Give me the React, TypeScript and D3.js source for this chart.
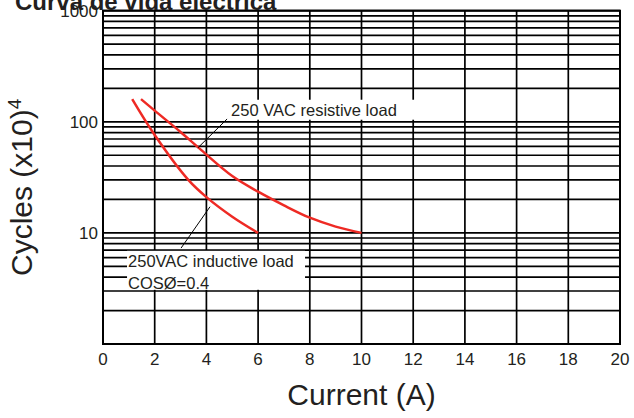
import React from 'react';
import * as d3 from 'd3';

// life curve data
const title = 'Curva de vida eléctrica';
const xTicks = [0, 2, 4, 6, 8, 10, 12, 14, 16, 18, 20];
const yTickValues = [10, 100, 1000];
const yDecades = [1, 10, 100];
const yMinorSteps = [2, 3, 4, 5, 6, 7, 8, 9];

const inductiveCurrent = [1.13, 2, 3.3, 4, 5, 6];
const inductiveCycles = [160, 76, 30, 21, 14, 10];
const resistiveCurrent = [1.47, 2, 3, 3.75, 5, 6, 7, 8, 9, 10];
const resistiveCycles = [160, 126, 81, 57, 32.5, 23.5, 17.7, 13.7, 11.4, 10];

const resistiveLabel = ['250 VAC resistive load'];
const inductiveLabel = ['250VAC inductive load', 'COSØ=0.4'];

const width = 634;
const height = 418;
const font = '"Liberation Sans", Arial, sans-serif';
const ink = '#231f20';

export default function App() {
  const x = d3.scaleLinear().domain([0, 20]).range([103, 620]);
  const y = d3.scaleLog().domain([1, 1000]).range([344, 10.7]);

  const line = d3
    .line<[number, number]>()
    .x((d) => x(d[0]))
    .y((d) => y(d[1]))
    .curve(d3.curveCatmullRom.alpha(0.5));

  const inductive = inductiveCurrent.map((c, i) => [c, inductiveCycles[i]] as [number, number]);
  const resistive = resistiveCurrent.map((c, i) => [c, resistiveCycles[i]] as [number, number]);

  const hLines: number[] = [];
  yDecades.forEach((d) => {
    hLines.push(d);
    yMinorSteps.forEach((m) => hLines.push(d * m));
  });
  hLines.push(1000);

  const [x0, x1] = x.range();
  const [yb, yt] = y.range();

  return (
    <svg width={width} height={height} style={{ position: 'absolute', left: 0, top: 0, background: '#fff' }} fontFamily={font}>
      <rect width={width} height={height} fill="#fff" />

      {/* grid */}
      {hLines.map((v) => (
        <line key={'h' + v} x1={x0} x2={x1} y1={y(v)} y2={y(v)} stroke="#000" strokeWidth={1.7} />
      ))}
      {xTicks.map((t) => (
        <line key={'v' + t} x1={x(t)} x2={x(t)} y1={yt} y2={yb} stroke="#000" strokeWidth={1.7} />
      ))}

      {/* label boxes hide the grid behind them */}
      <rect x={x(4.84)} y={y(158)} width={192} height={20} fill="#fff" />
      <rect x={x(0.93)} y={y(6.9)} width={178} height={39} fill="#fff" />

      <rect x={x0} y={yt} width={x1 - x0} height={yb - yt} fill="none" stroke="#000" strokeWidth={2} />

      {/* curves */}
      <path d={line(inductive) || ''} fill="none" stroke="#ee2a24" strokeWidth={2.5} />
      <path d={line(resistive) || ''} fill="none" stroke="#ee2a24" strokeWidth={2.5} />

      {/* leaders */}
      <line x1={x(3.67)} y1={y(58.3)} x2={x(4.8)} y2={y(106)} stroke="#000" strokeWidth={1} />
      <line x1={x(4.14)} y1={y(17.2)} x2={x(3.02)} y2={y(7.3)} stroke="#000" strokeWidth={1} />

      <g fill={ink} fontSize={16.5}>
        {resistiveLabel.map((s, i) => (
          <text key={s} x={x(4.84) + 3} y={y(158) + 16.5 + i * 22}>{s}</text>
        ))}
        {inductiveLabel.map((s, i) => (
          <text key={s} x={x(0.93) + 1} y={y(6.9) + 16 + i * 22}>{s}</text>
        ))}
      </g>

      {/* axes labels */}
      <g fill={ink} fontSize={17}>
        {xTicks.map((t) => (
          <text key={'xt' + t} x={x(t)} y={yb + 21} textAnchor="middle">{t}</text>
        ))}
        {yTickValues.map((v) => (
          <text key={'yt' + v} x={x0 - 5} y={y(v)} dy="0.35em" textAnchor="end">{v}</text>
        ))}
      </g>

      <text x={(x0 + x1) / 2} y={405} textAnchor="middle" fontSize={30} fill={ink}>Current (A)</text>
      <text transform={`translate(32, ${(yt + yb) / 2 + 10}) rotate(-90)`} textAnchor="middle" fontSize={30} fill={ink}>
        Cycles (x10)<tspan fontSize={19} dy={-11}>4</tspan>
      </text>

      <text x={15} y={9.5} fontSize={24} fontWeight="bold" fill={ink}>{title}</text>
    </svg>
  );
}
